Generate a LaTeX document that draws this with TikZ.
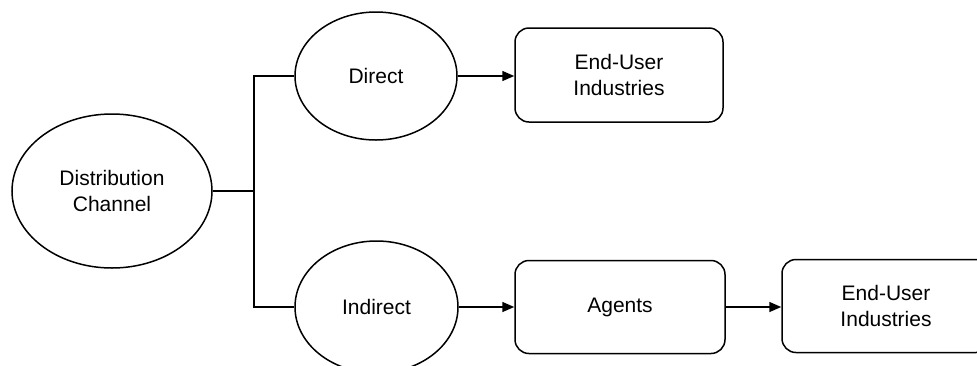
\documentclass[tikz,border=0pt]{standalone}
\usepackage{fontspec}
\setmainfont{Liberation Sans}
\usetikzlibrary{shapes.geometric,arrows.meta}
\begin{document}
\begin{tikzpicture}[x=1pt,y=-1pt,
  line width=1.5pt,
  every node/.style={font=\fontsize{21}{26}\selectfont, align=center},
  oval/.style={draw, ellipse, fill=white, inner sep=0pt},
  rbox/.style={draw, rounded corners=14pt, fill=white, inner sep=0pt,
               minimum width=208pt, minimum height=93pt},
  flow/.style={-{Triangle[length=12pt,width=10pt]}}
]
\useasboundingbox (0,0) rectangle (977,365);

% channel ellipses
\node[oval, minimum width=200pt, minimum height=154pt] (dc) at (112,191) {Distribution\\Channel};
\node[oval, minimum width=162pt, minimum height=128pt] (dir) at (376,76) {Direct};
\node[oval, minimum width=163pt, minimum height=132pt] (ind) at (376.5,307) {Indirect};

% destination boxes
\node[rbox, minimum height=94pt] (eu1) at (619,75) {End-User\\Industries};
\node[rbox, minimum width=210pt] (ag) at (620,307) {Agents};
\node[rbox] (eu2) at (886,306) {End-User\\Industries};

% branching connector
\draw (dc.east) -- ++(41,0) coordinate (jm);
\draw (dir.west) -| (jm);
\draw[line width=2.2pt] (ind.west) -| (jm);

% flow arrows, kept level with their source
\draw[flow] (dir.east) -- (dir.east -| eu1.west);
\draw[flow] (ind.east) -- (ind.east -| ag.west);
\draw[flow] (ag.east) -- (ag.east -| eu2.west);
\end{tikzpicture}
\end{document}
